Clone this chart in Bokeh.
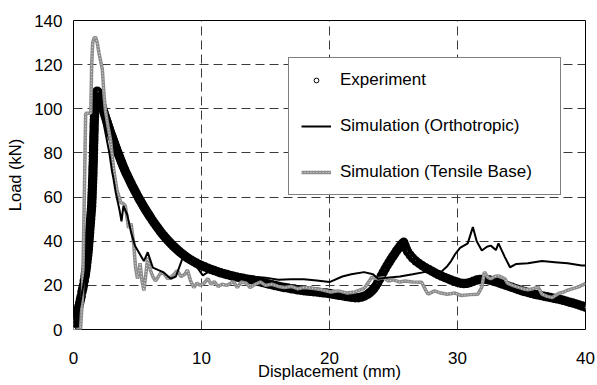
from bokeh.plotting import figure
from bokeh.models import Range1d, FixedTicker, Legend, LegendItem
from bokeh.embed import file_html
from bokeh.resources import INLINE

# ---------------- data ----------------
x_ticks = [0, 10, 20, 30, 40]
y_ticks = [0, 20, 40, 60, 80, 100, 120, 140]

# Experiment: (displacement mm, load kN), dense record
exp_rise = [
    (0.00, 0), (0.06, 1.5), (0.12, 3), (0.18, 4.5), (0.24, 6), (0.30, 7.5), (0.36, 9),
    (0.42, 10.5), (0.48, 12), (0.54, 13.5), (0.60, 15), (0.66, 17), (0.72, 18.5),
    (0.78, 20), (0.84, 22), (0.90, 24), (0.93, 25.3), (0.96, 26.5), (0.99, 27.8),
    (1.02, 29), (1.05, 30.5), (1.08, 32), (1.11, 33.5), (1.14, 35), (1.16, 36.5),
    (1.18, 38), (1.20, 39.5), (1.22, 41), (1.24, 42.5), (1.26, 44), (1.28, 45.5),
    (1.30, 47), (1.32, 48.5), (1.34, 50), (1.36, 51.5), (1.38, 53), (1.40, 54.5),
    (1.42, 56), (1.43, 57.5), (1.44, 59), (1.45, 60.5), (1.46, 62), (1.47, 63.5),
    (1.48, 65), (1.49, 66.5), (1.50, 68), (1.51, 69.5), (1.52, 71), (1.52, 72.5),
    (1.53, 74), (1.54, 75.5), (1.55, 77), (1.55, 78.5), (1.56, 80), (1.57, 81.5),
    (1.57, 83), (1.58, 84.5), (1.59, 86), (1.59, 87.5), (1.60, 89), (1.61, 90.5),
    (1.61, 92), (1.62, 93.5), (1.63, 95), (1.64, 96.5), (1.65, 98), (1.66, 99.5),
    (1.67, 101), (1.69, 102.5), (1.71, 104), (1.73, 105.2), (1.76, 106.3),
    (1.80, 107.3), (1.85, 108),
]
exp_decay = [
    (1.92, 107.5), (2.00, 105.5), (2.08, 104), (2.16, 102.5), (2.24, 101), (2.32, 99.5),
    (2.40, 98), (2.48, 96.6), (2.56, 95.2), (2.64, 93.8), (2.72, 92.4), (2.80, 91),
    (2.88, 89.6), (2.96, 88.3), (3.04, 87), (3.12, 85.7), (3.20, 84.4), (3.28, 83.1),
    (3.36, 81.8), (3.44, 80.5), (3.52, 79.3), (3.60, 78.1), (3.68, 76.9), (3.76, 75.7),
    (3.84, 74.5), (3.92, 73.4), (4.00, 72.3), (4.1, 71.0), (4.2, 69.8), (4.3, 68.6),
    (4.4, 67.4), (4.5, 66.2), (4.6, 65.0), (4.7, 63.9), (4.8, 62.8), (4.9, 61.7),
    (5.0, 60.6), (5.1, 59.5), (5.2, 58.5), (5.3, 57.5), (5.4, 56.5), (5.5, 55.5),
    (5.6, 54.5), (5.7, 53.6), (5.8, 52.7), (5.9, 51.8), (6.0, 50.9), (6.15, 49.6),
    (6.30, 48.3), (6.45, 47.1), (6.60, 45.9), (6.75, 44.7), (6.90, 43.6), (7.05, 42.5),
    (7.20, 41.5), (7.35, 40.5), (7.50, 39.6), (7.65, 38.7), (7.80, 37.8), (7.95, 37.0),
    (8.10, 36.2), (8.25, 35.4), (8.40, 34.7), (8.55, 34.0), (8.70, 33.3), (8.85, 32.7),
    (9.00, 32.1), (9.2, 31.4), (9.4, 30.7), (9.6, 30.1), (9.8, 29.5), (10.0, 29.0),
]
exp_plateau = [
    (10.25, 28.4), (10.5, 27.8), (10.75, 27.2), (11.0, 26.7), (11.25, 26.2), (11.5, 25.7),
    (11.75, 25.3), (12.0, 24.9), (12.25, 24.5), (12.5, 24.1), (12.75, 23.8), (13.0, 23.5),
    (13.25, 23.2), (13.5, 22.9), (13.75, 22.7), (14.0, 22.4), (14.25, 22.0), (14.5, 21.7),
    (14.75, 21.3), (15.0, 21.0), (15.25, 20.6), (15.5, 20.3), (15.75, 19.9), (16.0, 19.6),
    (16.25, 19.3), (16.5, 19.0), (16.75, 18.8), (17.0, 18.5), (17.25, 18.3), (17.5, 18.0),
    (17.75, 17.8), (18.0, 17.6), (18.25, 17.4), (18.5, 17.3), (18.75, 17.1), (19.0, 17.0),
    (19.25, 16.8), (19.5, 16.6), (19.75, 16.5), (20.0, 16.3), (20.25, 16.0), (20.5, 15.8),
    (20.75, 15.5), (21.0, 15.3), (21.25, 15.0), (21.5, 14.8), (21.75, 14.6), (22.0, 14.4),
    (22.25, 14.4), (22.5, 14.7),
]
exp_second = [
    (22.75, 15.2), (23.0, 16.0), (23.15, 16.7), (23.3, 17.5), (23.45, 18.4), (23.6, 19.6),
    (23.75, 21.0), (23.9, 22.6), (24.05, 24.3), (24.2, 25.9), (24.35, 27.5), (24.5, 29.0),
    (24.65, 30.4), (24.8, 31.8), (24.95, 33.1), (25.1, 34.4), (25.25, 35.7), (25.4, 36.9),
    (25.55, 38.0), (25.7, 39.0), (25.8, 39.5), (25.9, 38.0), (26.0, 36.5), (26.1, 35.3),
]
exp_tail = [
    (26.3, 33.7), (26.5, 32.3), (26.75, 31.0), (27.0, 29.9), (27.25, 28.9), (27.5, 28.0),
    (27.75, 27.2), (28.0, 26.4), (28.25, 25.6), (28.5, 24.9), (28.75, 24.2), (29.0, 23.6),
    (29.25, 23.0), (29.5, 22.4), (29.75, 21.9), (30.0, 21.4), (30.25, 21.0), (30.5, 20.8),
    (30.75, 20.9), (31.0, 21.3), (31.25, 21.9), (31.5, 22.4), (31.75, 22.7), (32.0, 22.8),
    (32.25, 22.7), (32.5, 22.4), (32.75, 22.0), (33.0, 21.6), (33.25, 21.1), (33.5, 20.6),
    (33.75, 20.1), (34.0, 19.6), (34.25, 19.1), (34.5, 18.6), (34.75, 18.1), (35.0, 17.6),
    (35.25, 17.2), (35.5, 16.8), (35.75, 16.4), (36.0, 16.0), (36.25, 15.7), (36.5, 15.4),
    (36.75, 15.1), (37.0, 14.8), (37.25, 14.5), (37.5, 14.2), (37.75, 13.9), (38.0, 13.6),
    (38.25, 13.2), (38.5, 12.8), (38.75, 12.4), (39.0, 12.0), (39.25, 11.6), (39.5, 11.1),
    (39.75, 10.6), (40.0, 10.1),
]

# Simulation (Orthotropic)
orth = [
    (0, 0), (0.5, 11), (1.0, 28), (1.3, 48), (1.5, 72), (1.62, 98), (1.8, 107), (2.0, 104),
    (2.4, 92), (2.8, 80), (3.0, 72), (3.1, 69), (3.3, 62), (3.6, 54), (3.75, 49), (3.9, 56),
    (4.2, 52), (4.5, 44), (4.8, 38), (5.3, 33), (5.5, 31), (5.8, 35), (6.2, 28), (6.6, 27),
    (7.0, 26), (7.6, 23), (8.0, 24), (8.5, 32), (8.8, 35), (9.0, 31), (9.4, 30), (9.8, 27),
    (10.1, 24.5), (10.5, 26), (11, 25.5), (12, 25), (13, 24), (14, 24), (15, 23.5),
    (16, 22.5), (17, 22.8), (18, 22.8), (19, 22.2), (20, 21.5), (21, 24), (21.7, 25),
    (22.7, 26), (23.4, 25), (23.8, 23), (24.5, 23.5), (25.5, 24), (26.5, 25), (27.4, 26),
    (28.7, 26), (29.2, 28.7), (29.5, 31), (29.8, 34), (30.2, 37), (30.8, 39), (31.2, 46.4),
    (31.5, 40), (31.9, 35.8), (32.3, 37.5), (32.6, 38), (33, 36), (33.2, 39), (33.7, 32.8),
    (34.1, 28.2), (34.6, 29.7), (35.5, 30), (36.6, 31), (37.6, 30.5), (38.6, 30),
    (39.7, 29), (40, 29),
]

# Simulation (Tensile Base)
tens = [
    (0.0, 0), (0.55, 0), (0.7, 15), (0.8, 45), (0.9, 80), (0.95, 98), (1.2, 98), (1.35, 98),
    (1.42, 120), (1.5, 130), (1.6, 132), (1.72, 132.5), (1.85, 130), (2.0, 125), (2.25, 118),
    (2.4, 105), (2.5, 99), (2.7, 92), (2.9, 85.6), (3.15, 72), (3.4, 63), (3.7, 57.5),
    (3.9, 57), (4.05, 56), (4.3, 46), (4.5, 48), (4.7, 39), (4.85, 28), (5.0, 23), (5.1, 26),
    (5.2, 30), (5.35, 22), (5.5, 17.7), (5.65, 25), (5.8, 32.8), (6.0, 27), (6.2, 24),
    (6.4, 22), (6.6, 23.7), (6.85, 26), (7.1, 25), (7.35, 23), (7.6, 23.7), (7.85, 25),
    (8.1, 26.7), (8.4, 24), (8.7, 25), (8.9, 27), (9.15, 22), (9.4, 19), (9.65, 21),
    (9.9, 20), (10.2, 21), (10.5, 23), (10.75, 20.5), (11.0, 21.7), (11.3, 19.5),
    (11.6, 20.5), (12.0, 20), (12.5, 21.7), (12.8, 19), (13.1, 21.5), (13.5, 21), (13.8, 19),
    (14.2, 20.5), (14.6, 21.5), (15.0, 20), (15.5, 20.5), (16.0, 19.5), (16.5, 19),
    (17.0, 19.5), (17.5, 18.5), (18.0, 19), (18.8, 18.6), (19.4, 18), (20.1, 17),
    (20.7, 17.5), (21.4, 16.5), (22.0, 17), (22.7, 18.6), (23.0, 21), (23.3, 23.7),
    (23.8, 23), (24.2, 23.5), (24.6, 22), (25.0, 22.5), (25.5, 21.5), (25.9, 22),
    (26.5, 21.5), (27.2, 21.4), (27.5, 18), (27.7, 16), (28.2, 17.5), (28.7, 16.5),
    (29.2, 16), (29.8, 16.5), (30.3, 15.4), (31.0, 15.8), (31.6, 16), (31.9, 19.2),
    (32.1, 26), (32.4, 23.5), (32.6, 23), (32.9, 24), (33.2, 24.3), (33.5, 23.5),
    (33.7, 23), (33.9, 21), (34.3, 20), (34.7, 19.2), (35.1, 18.5), (35.5, 18),
    (35.9, 18.5), (36.3, 19.2), (36.6, 16), (37.0, 15), (37.4, 14.5), (37.9, 16.3),
    (38.3, 17), (38.6, 17.8), (39.0, 18.5), (39.4, 19.2), (39.7, 20), (40.0, 20.8),
]

labels = ["Experiment", "Simulation (Orthotropic)", "Simulation (Tensile Base)"]

# ---------------- figure ----------------
FONT = "Liberation Sans"

exp_pts = exp_rise + exp_decay + exp_plateau + exp_second + exp_tail
exp_x = [d for d, _ in exp_pts]
exp_y = [v for _, v in exp_pts]
orth_x = [d for d, _ in orth]
orth_y = [v for _, v in orth]
tens_x = [d for d, _ in tens]
tens_y = [v for _, v in tens]

p = figure(width=597, height=385, output_backend="svg", toolbar_location=None,
           x_range=Range1d(0, 40), y_range=Range1d(0, 140),
           min_border_left=73, min_border_right=12, min_border_top=20,
           min_border_bottom=56)
p.background_fill_color = "white"
p.border_fill_color = "white"
p.outline_line_color = "black"
p.outline_line_width = 1

for ax in (p.xaxis[0], p.yaxis[0]):
    ax.axis_line_color = None
    ax.major_tick_line_color = None
    ax.minor_tick_line_color = None
    ax.major_tick_out = 0
    ax.major_tick_in = 0
    ax.minor_tick_out = 0
    ax.minor_tick_in = 0
    ax.major_label_text_font = FONT
    ax.major_label_text_font_size = "17px"
    ax.major_label_text_color = "black"
    ax.axis_label_text_font = FONT
    ax.axis_label_text_font_size = "16.5px"
    ax.axis_label_text_font_style = "normal"
    ax.axis_label_text_color = "black"

p.xaxis.ticker = FixedTicker(ticks=x_ticks)
p.yaxis.ticker = FixedTicker(ticks=y_ticks)
p.xaxis.axis_label = "Displacement (mm)"
p.yaxis.axis_label = "Load (kN)"
p.xaxis.major_label_standoff = 22
p.xaxis.axis_label_standoff = -5
p.yaxis.major_label_standoff = 11
p.yaxis.axis_label_standoff = 7

for g in (p.xgrid[0], p.ygrid[0]):
    g.grid_line_color = "#3a3a3a"
    g.grid_line_width = 1
    g.grid_line_dash = "9 5"

r_exp = p.scatter(exp_x, exp_y, marker="circle", size=5.5, fill_color="white",
                  line_color="black", line_width=4)
r_tb = p.line(tens_x, tens_y, line_color="#8c8c8c", line_width=3.5)
r_tb_dots = p.line(tens_x, tens_y, line_color="#e2e2e2", line_width=1,
                   line_dash="1 2")
r_orth = p.line(orth_x, orth_y, line_color="black", line_width=2)
r_exp_key = p.scatter(exp_x[:1], exp_y[:1], marker="circle", size=5,
                      fill_color="white", line_color="black", line_width=1)

legend = Legend(items=[
    LegendItem(label=labels[0], renderers=[r_exp_key]),
    LegendItem(label=labels[1], renderers=[r_orth]),
    LegendItem(label=labels[2], renderers=[r_tb, r_tb_dots]),
], location=(215, 134))
legend.label_text_font = FONT
legend.label_text_font_size = "17px"
legend.label_text_color = "black"
legend.glyph_width = 30
legend.glyph_height = 12
legend.label_height = 20
legend.label_standoff = 9
legend.label_width = 208
legend.spacing = 26
legend.padding = 12
legend.margin = 0
legend.border_line_color = "black"
legend.border_line_width = 1
legend.background_fill_color = "white"
legend.background_fill_alpha = 1
p.add_layout(legend)

open("out.html", "w").write(file_html(p, INLINE))
